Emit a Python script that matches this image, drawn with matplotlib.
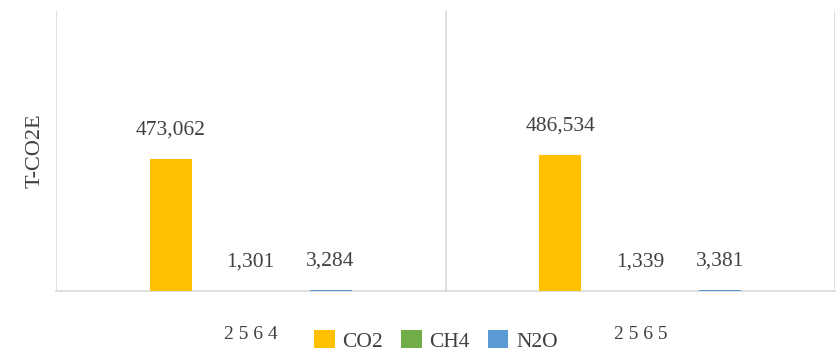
import matplotlib
matplotlib.use("Agg")
import matplotlib.pyplot as plt
import numpy as np

years = ["2 5 6 4", "2 5 6 5"]
series_names = ["CO2", "CH4", "N2O"]
co2 = [473062, 486534]
ch4 = [1301, 1339]
n2o = [3284, 3381]
colors = ["#FFC000", "#70AD47", "#5B9BD5"]

plt.rcParams['font.family'] = ['Liberation Serif', 'DejaVu Serif']
txt = "#404040"

fig = plt.figure(figsize=(8.39, 3.53), dpi=100)
ax = fig.add_axes([56/839, 62/353, (835-56)/839, (291-11)/353])

x = np.arange(len(years))
offsets = [-0.205, 0.0, 0.205]
width = 0.108
for vals, off, col, name in zip([co2, ch4, n2o], offsets, colors, series_names):
    bars = ax.bar(x + off, vals, width=width, color=col, label=name, zorder=3)
    for b, v in zip(bars, vals):
        ax.annotate(f"{v:,}", (b.get_x() + b.get_width()/2, b.get_height()),
                    xytext=(0, 17.5), textcoords="offset points",
                    ha="center", va="baseline", fontsize=15.5, color=txt)

ax.set_xlim(-0.5, 1.5)
ax.set_ylim(0, 1000000)
for s in ["top", "right", "left"]:
    ax.spines[s].set_visible(False)
ax.spines["bottom"].set_color("#D9D9D9")
ax.spines["bottom"].set_linewidth(1.2)
for xv in [-0.5, 0.5, 1.5]:
    ax.axvline(xv, color="#D9D9D9", lw=1.2, zorder=1)
ax.set_yticks([])
ax.set_xticks(x)
ax.set_xticklabels(years, fontsize=14, color=txt)
ax.tick_params(axis="x", length=0, pad=25)
ax.set_ylabel("T-CO2E", fontsize=16, color=txt, labelpad=8.5)

leg = fig.legend(loc="center", bbox_to_anchor=(436/839, 12/353), ncol=3,
                 frameon=False, fontsize=15.5, handlelength=0.95, handleheight=0.85,
                 columnspacing=0.85, handletextpad=0.35, labelcolor=txt,
                 borderaxespad=0, borderpad=0)

fig.savefig("out.png", dpi=100)
